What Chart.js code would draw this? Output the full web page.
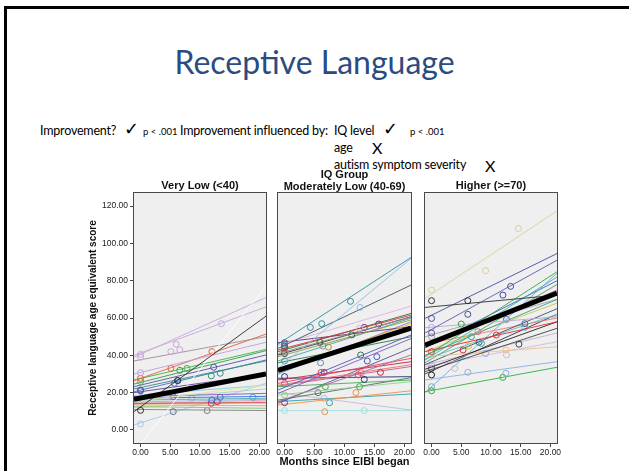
<!DOCTYPE html>
<html>
<head>
<meta charset="utf-8">
<title>Receptive Language</title>
<script src="https://cdn.jsdelivr.net/npm/chart.js@4.4.0/dist/chart.umd.min.js"></script>
<style>
  html, body { margin: 0; padding: 0; background: #fff; }
  body { width: 629px; height: 471px; position: relative; overflow: hidden; }
  .bar { position: absolute; background: #000; }
  .t { position: absolute; white-space: nowrap; font-family: Lato, "Liberation Sans", sans-serif; color: #000; line-height: 16px; font-size: 12.5px; letter-spacing: -0.2px; }
  .small { font-size: 9.5px; letter-spacing: 0; }
  .mark { font-family: "DejaVu Sans", sans-serif; font-size: 18px; font-weight: bold; letter-spacing: 0; }
  .ex { font-size: 16px; letter-spacing: 0; }
  #title { left: 0; width: 629px; top: 42px; text-align: center; font-size: 32px; line-height: 40px; color: #2a4c80; letter-spacing: 0; }
  canvas { position: absolute; }
</style>
</head>
<body>
<div class="bar" style="left:4px; top:6px; width:625px; height:3px;"></div>
<div class="bar" style="left:4px; top:6px; width:3px; height:465px;"></div>

<div class="t" id="title">Receptive Language</div>

<div class="t" style="left:40px; top:123px;">Improvement?</div>
<div class="t mark" style="left:124px; top:121px;">✓</div>
<div class="t small" style="left:143px; top:124px;">p &lt; .001</div>
<div class="t" style="left:180px; top:123px;">Improvement influenced by:</div>
<div class="t" style="left:334px; top:123px;">IQ level</div>
<div class="t mark" style="left:383px; top:121px;">✓</div>
<div class="t small" style="left:410px; top:124px;">p &lt; .001</div>
<div class="t" style="left:334px; top:140px;">age</div>
<div class="t ex" style="left:372px; top:140px;">X</div>
<div class="t" style="left:334px; top:157px;">autism symptom severity</div>
<div class="t ex" style="left:485px; top:158px;">X</div>

<canvas id="veryLowChart" width="200" height="290" style="left:80px; top:170px;"></canvas>
<canvas id="modLowChart" width="160" height="302" style="left:266px; top:169px;"></canvas>
<canvas id="higherChart" width="160" height="290" style="left:413px; top:170px;"></canvas>

<script>
// fitted lines are drawn across the whole x range of each panel
const fitMonths = [-1.1, 21.1];
const monthTicks = [0, 5, 10, 15, 20];
const scoreTicks = [0, 20, 40, 60, 80, 100, 120];

// Very Low (<40)
const veryLowStart = [9.8, -12, 39, 40, 37, 30, 26.4, 26.8, 24.6, 23.2, 22, 20.5, 20, 15.2, 17.9, 17, 16, 15, 14.3, 13.4, 12.5, 11, 13.8, 12, 2.7, 16, 18.5];
const veryLowEnd = [61, 77, 71, 66, 50, 47, 51.4, 43.2, 42.5, 40.2, 37, 37.5, 30, 24.1, 19.6, 18, 17, 16.4, 14.6, 13, 11.6, 10.4, 16, 15.5, 25, 22, 24];
const veryLowMonths = [[0, 6.2], [], [0, 5.1, 13.6], [0, 6.0, 6.6], [], [0], [0, 5.1, 12], [0, 7.8], [6.6], [0, 12.3], [11.9, 13.4], [5.7, 6.3], [0], [], [5.5], [12, 13.4], [18.9], [8.6], [11.9, 12.9], [], [], [5.5, 11.2], [], [], [0, 5.5], [], [0]];
const veryLowScores = [[10.5, 26.5], [], [39, 42, 57], [40.5, 46, 43], [], [30.7], [27.7, 33, 42], [26, 33], [32], [21.4, 33.6], [29, 30.4], [25, 26.5], [21], [], [17.9], [16, 17.5], [17.5], [17], [14.3, 15.2], [], [], [9.8, 10.4], [], [], [3.2, 9.8], [], [17]];
const veryLowMean = [16.5, 30];

// Moderately Low (40-69)
const modLowStart = [46, 33, 43.75, 45.5, 42.9, 42, 41, 39.3, 31.25, 46.8, 40.2, 21.4, 19.6, 36, 15.2, 25, 26.8, 24, 27.7, 23.2, 23.6, 18.75, 16, 14.3, 13.4, 15.2, 10.4, 20, 37, 30];
const modLowEnd = [92.5, 92, 77.7, 66.4, 61.6, 62.5, 60.5, 59, 57, 55.4, 60.7, 50.9, 49, 50, 40.2, 38.4, 36.6, 35, 28.6, 26.8, 34, 25.9, 28, 44, 21, 19.3, 10.4, 10.7, 60, 58];
const modLowMonths = [[0, 4.3, 6.2, 11], [12.6], [0], [12.5], [0], [5.9, 11.2], [0, 6.4], [7.3], [], [0, 13.3, 15.7], [0], [13.8, 15.4], [], [12.7], [], [6.1, 12.3], [6.6, 16], [12.8], [0, 13.3], [6.8, 12.5], [0], [0], [5.6], [0], [11.9, 6.7], [7.5], [0, 13.3], [6.6], [0], [6]];
const modLowScores = [[46, 55, 57, 69], [65.7], [45], [54.5], [44], [47, 51], [42, 45], [44.5], [], [46.8, 55, 56.8], [41], [37, 39.3], [], [40.2], [], [30.9, 29.5], [30.9, 30.9], [30.7], [28.6, 27.1], [23.2, 23.2], [25], [18.75], [20], [14.6], [20, 9.8], [14.6], [10.4, 10.4], [17], [37], [36]];
const modLowMean = [32, 54.6];

// Higher (>=70)
const higherStart = [70.5, 65.7, 59.8, 52, 39.3, 37.5, 54.8, 42, 32.5, 31.25, 39.3, 33.9, 26.8, 20.5, 20, 45, 40, 42, 44, 36, 50, 35, 46, 34.8, 38, 30];
const higherEnd = [117.5, 72.3, 94.6, 91, 84.8, 82, 60.7, 58, 58, 54.5, 44.6, 47.3, 36.6, 33.6, 84, 75, 70, 68, 80, 78, 70, 65, 60, 52, 62, 62];
const higherMonths = [[0, 9.1, 14.6], [0, 6.1], [0, 6.1, 12, 13.3], [0], [5], [], [0], [0, 5.3, 10.9], [0], [14.7], [12.5], [12.6, 3.9], [6.1, 12.5], [0, 12], [0, 9.1], [7.8], [6.7, 8.4], [6.2], [12.6, 15.7], [], [0], [8], [], [0], [15.7], [0]];
const higherScores = [[75, 85.4, 108], [69.3, 69.3], [59.8, 62, 72.3, 77], [52], [56.8], [], [55], [42, 42.9, 50.9], [29.5], [46], [42.9], [40.2, 33], [30.9, 30.4], [21, 28.2], [23.2, 41], [52.7], [50, 46.4], [45], [59.3, 57], [], [50], [47], [], [34.8], [55], [33]];
const higherMean = [45.5, 73.4];

const veryLowColors = ['#2b2b2b', '#ffffff', '#c7a8e0', '#c8a6d8', '#a08a98', '#b9a2dc', '#e8603a', '#3cb44b', '#2e9e3e', '#5a4cb0', '#2f8f7a', '#3d6fc0', '#6a3d9a', '#e4e2a0', '#7e57c2', '#4169e1', '#48b0b8', '#8fb8e0', '#d62728', '#f5a05a', '#7bc67b', '#7f7f7f', '#e8a0c8', '#d8d080', '#a8c8ec', '#a8d8a8', '#7fd0e0'];
const modLowColors = ['#2a8fa0', '#8ec1e0', '#3d5560', '#e0b0e8', '#e0303a', '#2f6b3a', '#909090', '#9a9a3a', '#f0b030', '#6a2c80', '#303030', '#4a5ab8', '#7a5ab8', '#2a7a40', '#a07090', '#e8405a', '#d02040', '#e87070', '#2a2f7a', '#40b050', '#c05a9a', '#90d090', '#507060', '#5050a0', '#f09040', '#30a0b0', '#a0e0e0', '#c8b8d8', '#40a0a8', '#6a8ab0'];
const higherColors = ['#d8d09a', '#303030', '#3d4fa0', '#5a5ab0', '#30a848', '#40b0b0', '#b8a8d8', '#e03030', '#202020', '#404040', '#f0c090', '#d0b8e0', '#8ab0e0', '#30b040', '#7aa8d8', '#e070a0', '#3aa090', '#c8c840', '#4060c0', '#50a060', '#a0a0a0', '#405060', '#e08070', '#c0b0d0', '#60c0d0', '#303848'];

// grey plot background and box round each panel
const panelFrame = {
  id: 'panelFrame',
  beforeDraw(chart) {
    const a = chart.chartArea, c = chart.ctx;
    c.save();
    c.fillStyle = '#efefef';
    c.fillRect(a.left, a.top, a.right - a.left, a.bottom - a.top);
    c.restore();
  },
  afterDraw(chart) {
    const a = chart.chartArea, c = chart.ctx;
    c.save();
    c.strokeStyle = '#4a4a4a';
    c.lineWidth = 1;
    c.strokeRect(Math.round(a.left) - 0.5, Math.round(a.top) - 0.5, Math.round(a.right - a.left) + 1, Math.round(a.bottom - a.top) + 1);
    c.restore();
  }
};

const fam = '"Liberation Sans", Arial, sans-serif';
const tickFont = { family: fam, size: 8.5 };

function makePanel(id, title, starts, ends, months, scores, colors, mean, opt) {
  const datasets = [{
    data: fitMonths.map((m, i) => ({ x: m, y: mean[i] })),
    showLine: true, borderColor: '#000', borderWidth: 5, pointRadius: 0, order: -1, clip: 0
  }];
  starts.forEach((s, i) => {
    datasets.push({
      data: [{ x: fitMonths[0], y: s }, { x: fitMonths[1], y: ends[i] }],
      showLine: true, borderColor: colors[i], borderWidth: 0.9, pointRadius: 0, clip: 0
    });
    datasets.push({
      data: months[i].map((m, j) => ({ x: m, y: scores[i][j] })),
      showLine: false, borderColor: colors[i], backgroundColor: 'rgba(0,0,0,0)',
      borderWidth: 1, pointRadius: 3, clip: 0
    });
  });

  return new Chart(document.getElementById(id), {
    type: 'scatter',
    data: { datasets: datasets },
    options: {
      responsive: false,
      animation: false,
      devicePixelRatio: 1,
      layout: { padding: opt.padding },
      plugins: {
        legend: { display: false },
        tooltip: { enabled: false },
        title: {
          display: true, text: title, color: '#111', fullSize: false,
          font: { family: fam, size: 11, weight: 'bold', lineHeight: opt.titleLine },
          padding: { top: 0, bottom: opt.titleGap }
        }
      },
      scales: {
        x: {
          type: 'linear', min: fitMonths[0], max: fitMonths[1],
          afterBuildTicks: s => { s.ticks = monthTicks.map(v => ({ value: v })); },
          afterFit: s => { s.height = opt.xHeight; },
          ticks: { callback: v => Number(v).toFixed(2), font: tickFont, color: '#222', padding: 1, maxRotation: 0, autoSkip: false },
          grid: { drawOnChartArea: false, tickLength: 4, color: '#444' },
          border: { display: false },
          title: {
            display: !!opt.xTitle, text: opt.xTitle || '', color: '#111',
            font: { family: fam, size: 11, weight: 'bold' },
            padding: { top: 0, bottom: 2 }
          }
        },
        y: {
          display: opt.showY, min: -7, max: 127,
          afterBuildTicks: s => { s.ticks = scoreTicks.map(v => ({ value: v })); },
          afterFit: s => { if (opt.showY) s.width = 54; },
          ticks: { callback: v => Number(v).toFixed(2), font: tickFont, color: '#222', padding: 2 },
          grid: { drawOnChartArea: false, tickLength: 4, color: '#444' },
          border: { display: false },
          title: {
            display: true, text: 'Receptive language age equivalent score', color: '#111',
            font: { family: fam, size: 10, weight: 'bold' }, padding: { top: 7, bottom: 0 }
          }
        }
      }
    },
    plugins: [panelFrame]
  });
}

makePanel('veryLowChart', 'Very Low (<40)', veryLowStart, veryLowEnd, veryLowMonths, veryLowScores, veryLowColors, veryLowMean,
  { padding: { top: 10, right: 14, bottom: 0, left: 0 }, titleLine: 1.1, titleGap: 1, xHeight: 17, showY: true });
makePanel('modLowChart', ['IQ Group', 'Moderately Low (40-69)'], modLowStart, modLowEnd, modLowMonths, modLowScores, modLowColors, modLowMean,
  { padding: { top: 0, right: 15, bottom: 0, left: 12 }, titleLine: 1.1, titleGap: 0, xHeight: 28, showY: false, xTitle: 'Months since EIBI began' });
makePanel('higherChart', 'Higher (>=70)', higherStart, higherEnd, higherMonths, higherScores, higherColors, higherMean,
  { padding: { top: 10, right: 16, bottom: 0, left: 12 }, titleLine: 1.1, titleGap: 1, xHeight: 17, showY: false });
</script>
</body>
</html>
